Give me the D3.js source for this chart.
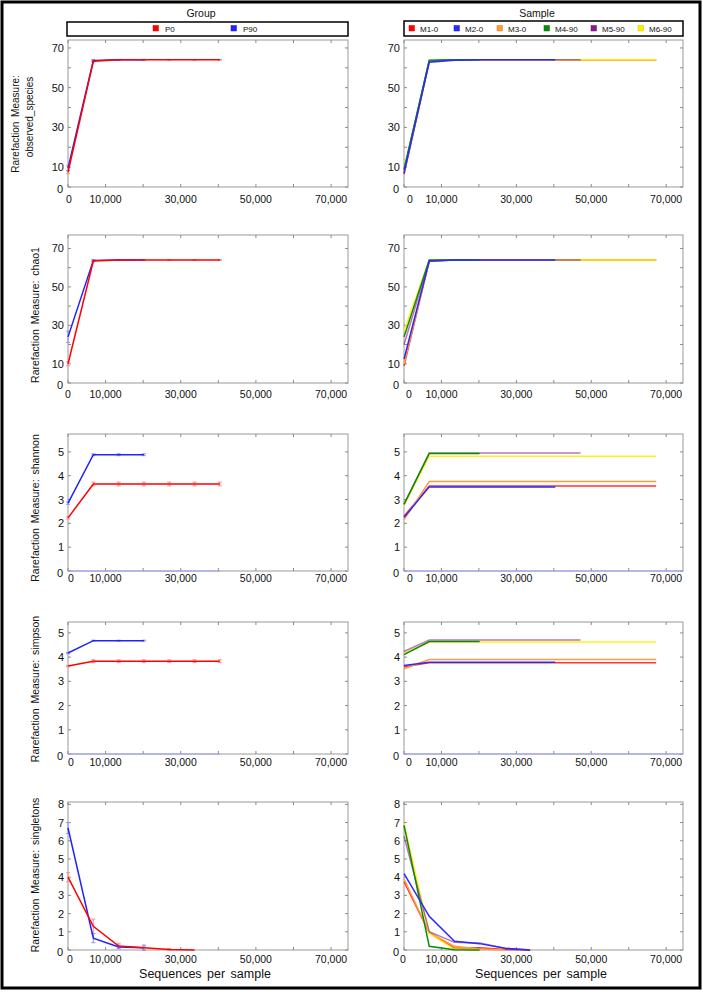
<!DOCTYPE html>
<html><head><meta charset="utf-8">
<script src="https://cdn.jsdelivr.net/npm/d3@7"></script>
<style>
html,body{margin:0;padding:0;background:#fff;}
svg text{font-family:"Liberation Sans",Arial,Helvetica,sans-serif;fill:#111;}
</style></head>
<body>
<svg id="chart" width="703" height="992"></svg>
<script>
// ---------------- DATA ----------------
const depths = [10, 6740, 13470, 20200, 26940, 33670, 40400, 47130, 53870, 60600, 67340];
const xTickLabels = ["0", "10,000", "30,000", "50,000", "70,000"];
const xTickValues = [0, 10000, 30000, 50000, 70000];

const metrics = ["observed_species", "chao1", "shannon", "simpson", "singletons"];
const yMax = [74, 77, 5.75, 5.45, 8.13];
const yTickLabelValues = [[0,10,30,50,70],[0,10,30,50,70],[0,1,2,3,4,5],[0,1,2,3,4,5],[0,1,2,3,4,5,6,7,8]];
const yTickStep = [10, 10, 1, 1, 1];

const groups = ["P0", "P90"];
const groupColors = ["#ff0000", "#2222ff"];
const groupErrColors = ["#ff8c8c", "#9090ff"];

// group means per metric
const obsP0 = [7.5, 63.3, 64, 64, 64, 64, 64];
const obsP90 = [9.5, 63.7, 64, 64];
const chaoP0 = [10, 63.5, 64, 64, 64, 64, 64];
const chaoP90 = [24, 63.8, 64, 64];
const shanP0 = [2.23, 3.65, 3.65, 3.65, 3.65, 3.65, 3.65];
const shanP90 = [2.85, 4.88, 4.88, 4.88];
const simpP0 = [3.63, 3.83, 3.83, 3.83, 3.83, 3.83, 3.83];
const simpP90 = [4.17, 4.68, 4.68, 4.68];
const singP0 = [4.0, 1.3, 0.22, 0.13, 0.03, 0];
const singP90 = [6.7, 0.65, 0.17, 0.12];
// group error half-widths
const obsErrP0 = [0.8, 0.4, 0.2, 0.2, 0.2, 0.2, 0.2];
const obsErrP90 = [1.2, 0.4, 0.2, 0.2];
const chaoErrP0 = [1.0, 0.4, 0.2, 0.2, 0.2, 0.2, 0.2];
const chaoErrP90 = [3.0, 0.4, 0.2, 0.2];
const shanErrP0 = [0.05, 0.08, 0.08, 0.08, 0.08, 0.08, 0.08];
const shanErrP90 = [0.05, 0.04, 0.04, 0.04];
const simpErrP0 = [0.03, 0.06, 0.06, 0.06, 0.06, 0.06, 0.06];
const simpErrP90 = [0.03, 0.02, 0.02, 0.02];
const singErrP0 = [0.25, 0.4, 0.15, 0.1, 0.05, 0];
const singErrP90 = [0.3, 0.25, 0.1, 0.15];

// zero-valued trace drawn along the bottom of the shannon / simpson panels
const zeroTraceGroup = [0, 0, 0, 0, 0, 0, 0];
const zeroTraceSample = [0, 0, 0, 0, 0, 0, 0, 0, 0, 0, 0, 0];
const zeroTraceSampleDepths = [10, 6740, 13470, 20200, 26940, 33670, 40400, 47130, 53870, 60600, 67340, 74500];

const samples = ["M1-0", "M2-0", "M3-0", "M4-90", "M5-90", "M6-90"];
const sampleColors = ["#ff0000", "#2a2aff", "#ff9a3c", "#0a8a0a", "#8a1a8a", "#ffee00"];
const sampleOpacity = [0.8, 1, 1, 1, 0.6, 0.9];
const sampleDrawOrder = [0, 2, 5, 4, 3, 1];

const obsM1 = [6.5, 63.3, 64, 64, 64, 64, 64, 64, 64, 64, 64];
const obsM2 = [7, 62.8, 63.8, 64, 64, 64, 64];
const obsM3 = [7.5, 63.3, 64, 64, 64, 64, 64, 64, 64, 64, 64];
const obsM4 = [9, 63.8, 64, 64];
const obsM5 = [8.5, 63.6, 64, 64, 64, 64, 64, 64];
const obsM6 = [8, 63.5, 64, 64, 64, 64, 64, 64, 64, 64, 64];

const chaoM1 = [9, 63.5, 64, 64, 64, 64, 64, 64, 64, 64, 64];
const chaoM2 = [12.5, 63.3, 64, 64, 64, 64, 64];
const chaoM3 = [10, 63.5, 64, 64, 64, 64, 64, 64, 64, 64, 64];
const chaoM4 = [24, 64, 64, 64];
const chaoM5 = [20, 63.8, 64, 64, 64, 64, 64, 64];
const chaoM6 = [27, 64, 64, 64, 64, 64, 64, 64, 64, 64, 64];

const shanM1 = [2.3, 3.57, 3.57, 3.57, 3.57, 3.57, 3.57, 3.57, 3.57, 3.57, 3.57];
const shanM2 = [2.25, 3.53, 3.53, 3.53, 3.53, 3.53, 3.53];
const shanM3 = [2.15, 3.76, 3.76, 3.76, 3.76, 3.76, 3.76, 3.76, 3.76, 3.76, 3.76];
const shanM4 = [2.8, 4.93, 4.93, 4.93];
const shanM5 = [2.8, 4.95, 4.95, 4.95, 4.95, 4.95, 4.95, 4.95];
const shanM6 = [2.75, 4.82, 4.82, 4.82, 4.82, 4.82, 4.82, 4.82, 4.82, 4.82, 4.82];

const simpM1 = [3.6, 3.77, 3.77, 3.77, 3.77, 3.77, 3.77, 3.77, 3.77, 3.77, 3.77];
const simpM2 = [3.65, 3.79, 3.79, 3.79, 3.79, 3.79, 3.79];
const simpM3 = [3.52, 3.9, 3.9, 3.9, 3.9, 3.9, 3.9, 3.9, 3.9, 3.9, 3.9];
const simpM4 = [4.1, 4.64, 4.64, 4.64];
const simpM5 = [4.23, 4.71, 4.71, 4.71, 4.71, 4.71, 4.71, 4.71];
const simpM6 = [4.15, 4.62, 4.62, 4.62, 4.62, 4.62, 4.62, 4.62, 4.62, 4.62, 4.62];

const singM1 = [3.75, 0.95, 0.1, 0.12, 0.03, 0];
const singM2 = [4.2, 1.85, 0.48, 0.35, 0.1, 0];
const singM3 = [3.9, 0.95, 0.2, 0.05, 0];
const singM4 = [6.85, 0.2, 0.02, 0];
const singM5 = [6.25, 1.0, 0.42, 0.38, 0.1, 0];
const singM6 = [6.95, 0.9, 0.05, 0];

const groupData = [
  [[obsP0, obsErrP0], [obsP90, obsErrP90]],
  [[chaoP0, chaoErrP0], [chaoP90, chaoErrP90]],
  [[shanP0, shanErrP0], [shanP90, shanErrP90]],
  [[simpP0, simpErrP0], [simpP90, simpErrP90]],
  [[singP0, singErrP0], [singP90, singErrP90]]
];
const sampleData = [
  [obsM1, obsM2, obsM3, obsM4, obsM5, obsM6],
  [chaoM1, chaoM2, chaoM3, chaoM4, chaoM5, chaoM6],
  [shanM1, shanM2, shanM3, shanM4, shanM5, shanM6],
  [simpM1, simpM2, simpM3, simpM4, simpM5, simpM6],
  [singM1, singM2, singM3, singM4, singM5, singM6]
];
const hasZeroTrace = [false, false, true, true, false];

// ---------------- LAYOUT ----------------
const svg = d3.select("#chart");
svg.append("rect").attr("x", 2).attr("y", 2).attr("width", 698).attr("height", 986)
  .attr("fill", "none").attr("stroke", "#000").attr("stroke-width", 3);

const cols = [[68, 348], [404, 683]];
const rows = [[40, 187], [235, 383], [434, 571], [622, 754], [802, 950]];
const xLabelBase = [203, 398, 582, 766, 963];
const zeroLabelDx = [[1, 0, 3, 3, 2], [6, 5, 6, 5, -1]];
const xMax = 74500;
const FS = 10.5;

function drawPanel(ci, ri) {
  const [x0, x1] = cols[ci];
  const [y0, y1] = rows[ri];
  const x = d3.scaleLinear().domain([0, xMax]).range([x0, x1]);
  const y = d3.scaleLinear().domain([0, yMax[ri]]).range([y1, y0]);
  const g = svg.append("g");

  g.append("rect").attr("x", x0).attr("y", y0).attr("width", x1 - x0).attr("height", y1 - y0)
    .attr("fill", "none").attr("stroke", "#9a9a9a").attr("stroke-width", 1);
  const xt = d3.range(0, xMax, 10000);
  const yt = d3.range(0, yMax[ri] + 1e-9, yTickStep[ri]);
  const tickCol = "#8a8a8a";
  xt.forEach(v => {
    g.append("line").attr("x1", x(v)).attr("x2", x(v)).attr("y1", y0).attr("y2", y0 + 3).attr("stroke", tickCol);
    g.append("line").attr("x1", x(v)).attr("x2", x(v)).attr("y1", y1).attr("y2", y1 - 3).attr("stroke", tickCol);
  });
  yt.forEach(v => {
    g.append("line").attr("x1", x0).attr("x2", x0 + 3).attr("y1", y(v)).attr("y2", y(v)).attr("stroke", tickCol);
    g.append("line").attr("x1", x1).attr("x2", x1 - 3).attr("y1", y(v)).attr("y2", y(v)).attr("stroke", tickCol);
  });
  xTickValues.forEach((v, i) => {
    g.append("text").attr("x", x(v) + (v === 0 ? zeroLabelDx[ci][ri] : 0)).attr("y", xLabelBase[ri])
      .attr("text-anchor", "middle").attr("font-size", FS).text(xTickLabels[i]);
  });
  yTickLabelValues[ri].forEach(v => {
    g.append("text").attr("x", v === 0 ? x0 - 5 : x0 - 4).attr("y", v === 0 ? y1 + 6 : y(v) + 4)
      .attr("text-anchor", "end").attr("font-size", FS + 0.5).text(v);
  });

  const line = d3.line().x(d => x(d[0])).y(d => y(d[1]));
  if (hasZeroTrace[ri]) {
    const zt = ci === 0 ? zeroTraceGroup.map((v, i) => [depths[i], v])
                        : zeroTraceSample.map((v, i) => [zeroTraceSampleDepths[i], v]);
    g.append("path").attr("d", line(zt)).attr("fill", "none")
      .attr("stroke", "#a0a0ff").attr("stroke-width", 1.2);
  }
  if (ci === 0) {
    groupData[ri].forEach((gd, gi) => {
      const [vals, errs] = gd;
      const pts = vals.map((v, i) => [depths[i], v, errs[i]]);
      pts.forEach(p => {
        if (p[2] <= 0) return;
        const eg = g.append("g").attr("stroke", groupErrColors[gi]).attr("stroke-width", 1);
        eg.append("line").attr("x1", x(p[0])).attr("x2", x(p[0])).attr("y1", y(p[1] - p[2])).attr("y2", y(p[1] + p[2]));
        eg.append("line").attr("x1", x(p[0]) - 2).attr("x2", x(p[0]) + 2).attr("y1", y(p[1] - p[2])).attr("y2", y(p[1] - p[2]));
        eg.append("line").attr("x1", x(p[0]) - 2).attr("x2", x(p[0]) + 2).attr("y1", y(p[1] + p[2])).attr("y2", y(p[1] + p[2]));
      });
    });
    [1, 0].forEach(gi => {
      const vals = groupData[ri][gi][0];
      g.append("path").attr("d", line(vals.map((v, i) => [depths[i], v])))
        .attr("fill", "none").attr("stroke", groupColors[gi]).attr("stroke-width", 1.5);
    });
  } else {
    sampleDrawOrder.forEach(si => {
      const vals = sampleData[ri][si];
      g.append("path").attr("d", line(vals.map((v, i) => [depths[i], v])))
        .attr("fill", "none").attr("stroke", sampleColors[si]).attr("stroke-opacity", sampleOpacity[si])
        .attr("stroke-width", 1.5);
    });
  }
}

for (let ri = 0; ri < 5; ri++) { drawPanel(0, ri); drawPanel(1, ri); }

// Y axis titles
function vtext(xp, yp, t, fs) {
  svg.append("text").attr("transform", `translate(${xp},${yp}) rotate(-90)`)
    .attr("text-anchor", "middle").attr("font-size", fs).attr("word-spacing", 2).text(t);
}
vtext(18.5, 124, "Rarefaction Measure:", 10);
vtext(32.5, 117, "observed_species", 10);
vtext(39, 315, "Rarefaction Measure: chao1", 10.5);
vtext(39, 508, "Rarefaction Measure: shannon", 10.5);
vtext(39, 689, "Rarefaction Measure: simpson", 10.5);
vtext(39, 875, "Rarefaction Measure: singletons", 10.5);

// X axis titles
[205, 541].forEach(cx => {
  svg.append("text").attr("x", cx).attr("y", 978)
    .attr("text-anchor", "middle").attr("font-size", 12.5).attr("word-spacing", 2)
    .text("Sequences per sample");
});

// Legends
svg.append("text").attr("x", 201).attr("y", 17).attr("text-anchor", "middle").attr("font-size", 10.5).text("Group");
svg.append("text").attr("x", 537).attr("y", 17).attr("text-anchor", "middle").attr("font-size", 10.5).text("Sample");
svg.append("rect").attr("x", 67).attr("y", 22).attr("width", 281).attr("height", 14)
  .attr("fill", "#fff").attr("stroke", "#000").attr("stroke-width", 1.5);
svg.append("rect").attr("x", 404).attr("y", 21).attr("width", 279).attr("height", 15)
  .attr("fill", "#fff").attr("stroke", "#000").attr("stroke-width", 1.5);

const groupLegX = [153, 231];
groups.forEach((gname, i) => {
  svg.append("rect").attr("x", groupLegX[i]).attr("y", 25.5).attr("width", 5.5).attr("height", 5.5)
    .attr("fill", groupColors[i]).attr("stroke", d3.color(groupColors[i]).darker(0.6)).attr("stroke-width", 0.5);
  svg.append("text").attr("x", groupLegX[i] + 12).attr("y", 31.5).attr("font-size", 8).text(gname);
});
const sampleLegX = [409, 454, 497, 544, 591, 638];
samples.forEach((s, i) => {
  svg.append("rect").attr("x", sampleLegX[i]).attr("y", 25.5).attr("width", 5.5).attr("height", 5.5)
    .attr("fill", sampleColors[i]).attr("stroke", d3.color(sampleColors[i]).darker(0.6)).attr("stroke-width", 0.5);
  svg.append("text").attr("x", sampleLegX[i] + 11).attr("y", 31.5).attr("font-size", 8).text(s);
});
</script>
</body></html>
